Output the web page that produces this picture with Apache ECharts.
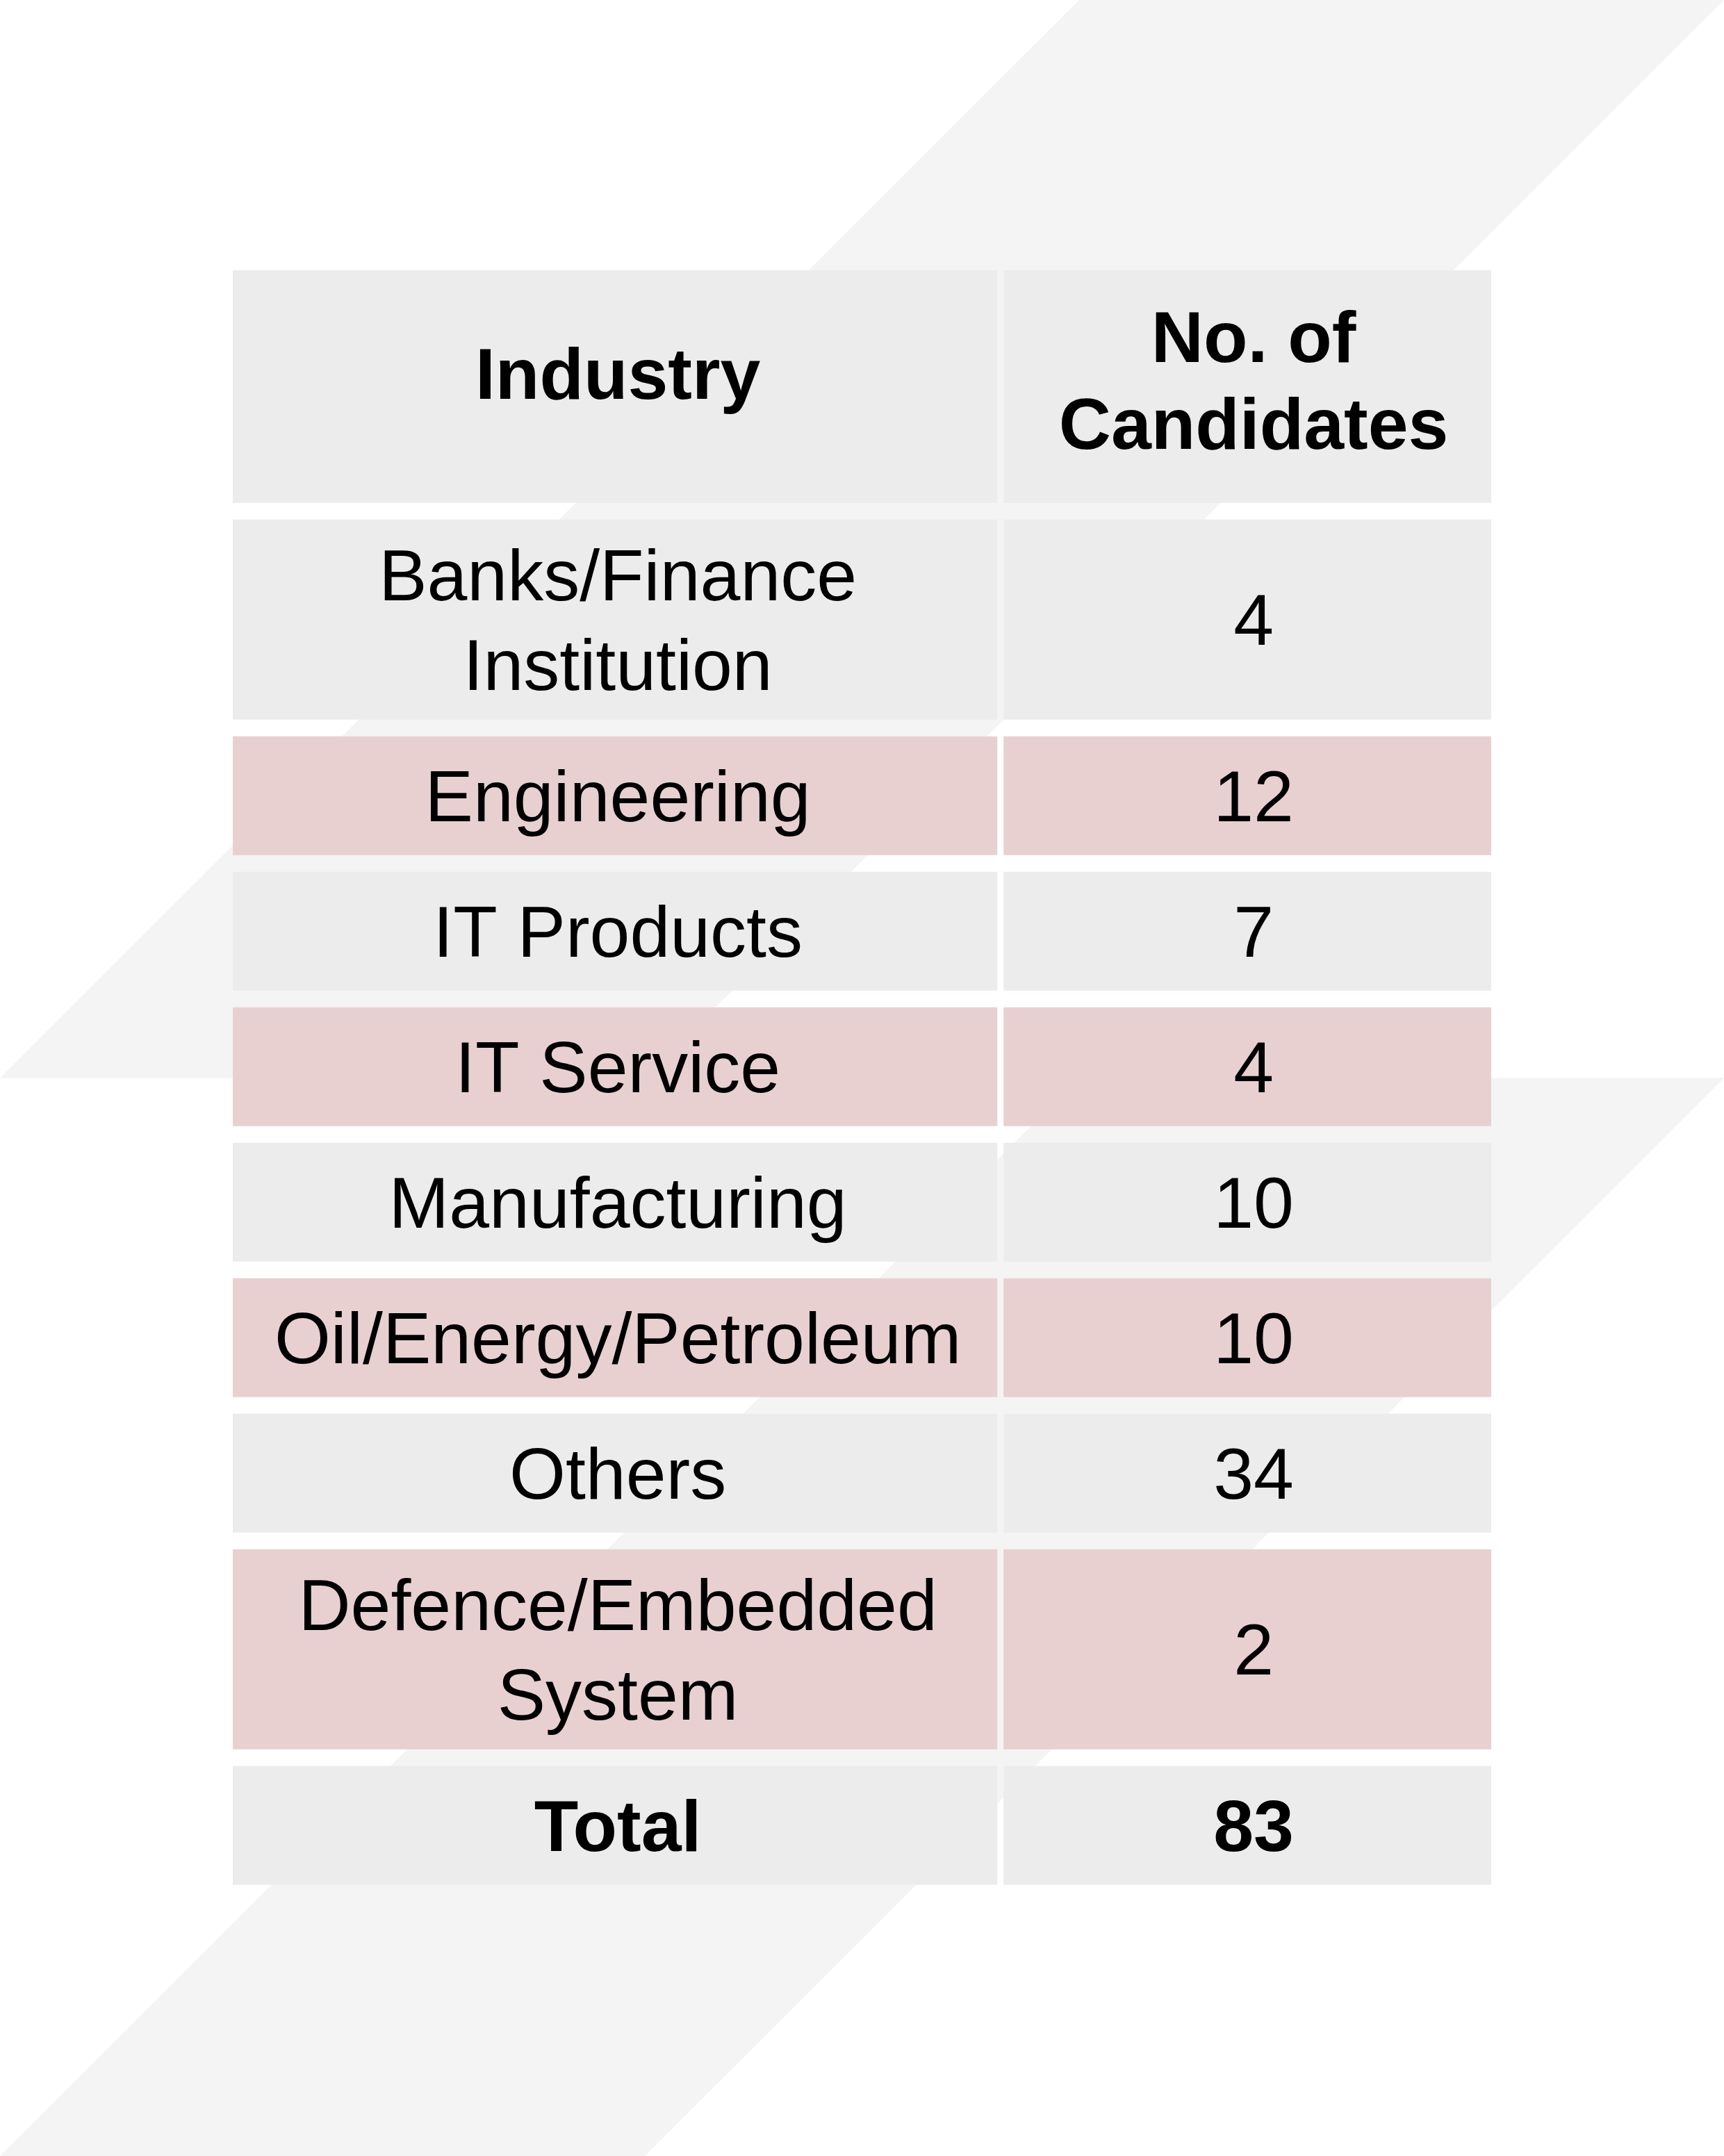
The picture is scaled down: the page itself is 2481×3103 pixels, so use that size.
<!DOCTYPE html>
<html>
<head>
<meta charset="utf-8">
<style>
html, body { margin: 0; padding: 0; background: #ffffff; }
#c { width: 2481px; height: 3103px; }
</style>
<script src="https://cdn.jsdelivr.net/npm/echarts@6/dist/echarts.min.js"></script>
</head>
<body>
<div id="c"></div>
<script>
// ---- data ----
const headers = ['Industry', 'No. of\nCandidates'];
const industries = [
  'Banks/Finance\nInstitution',
  'Engineering',
  'IT Products',
  'IT Service',
  'Manufacturing',
  'Oil/Energy/Petroleum',
  'Others',
  'Defence/Embedded\nSystem'
];
const candidates = [4, 12, 7, 4, 10, 10, 34, 2];
const totalLabel = 'Total';
const totalValue = 83;

// ---- layout ----
const chart = echarts.init(document.getElementById('c'), null, { renderer: 'canvas' });
const W = chart.getWidth(), H = chart.getHeight();

const rows = [{ cells: headers, bold: true, kind: 'header' }];
industries.forEach((name, i) => rows.push({ cells: [name, String(candidates[i])], bold: false, kind: 'body' }));
rows.push({ cells: [totalLabel, String(totalValue)], bold: true, kind: 'total' });

const ROW_PX = 195;    // pixels per y unit
const GAP_PX = 24;     // white gap under each row
const COL_GAP = 4.5;   // half gap between columns
const TEXT_DY = 8;     // baseline correction
const colEdges = [0, 61, 100];
const FONT = "'Liberation Sans', Arial, Helvetica, sans-serif";

function span(row) {
  const lines = Math.max(...row.cells.map(t => t.split('\n').length));
  return row.kind === 'header' ? 1.84 : 1 + 0.6 * (lines - 1);
}

let acc = 0;
const cellData = [];
rows.forEach((row, r) => {
  const s = span(row);
  row.start = acc; row.end = acc + s; acc += s;
  row.cells.forEach((t, c) => cellData.push([c, row.start, row.end, r]));
});
const yMax = acc;

const fillFor = r => (r % 2 === 1 || r === 0) ? '#ebeceb' : '#e8d0d1';

function renderItem(params, api) {
  const c = api.value(0), yv0 = api.value(1), yv1 = api.value(2), r = api.value(3);
  const p0 = api.coord([colEdges[c], yv0]);
  const p1 = api.coord([colEdges[c + 1], yv1]);
  const x0 = p0[0] + (c === 1 ? COL_GAP : 0);
  const x1 = p1[0] - (c === 0 ? COL_GAP : 0);
  const top = p0[1];
  const bottom = p1[1] - GAP_PX;
  const row = rows[r];
  let dy = TEXT_DY;
  if (row.kind === 'header') dy += (c === 0) ? -19 : -10;
  const dx = c === 0 ? 4 : 9;
  return {
    type: 'group',
    children: [
      { type: 'rect', shape: { x: x0, y: top, width: x1 - x0, height: bottom - top }, style: { fill: fillFor(r) } },
      { type: 'text', style: {
          text: row.cells[c],
          x: (x0 + x1) / 2 + dx,
          y: (top + bottom) / 2 + dy,
          align: 'center', verticalAlign: 'middle',
          fontSize: 104, fontFamily: FONT,
          fontWeight: row.bold ? 'bold' : 'normal',
          lineHeight: row.kind === 'header' ? 125 : 129,
          fill: '#000000'
      } }
    ]
  };
}

const option = {
  animation: false,
  backgroundColor: '#ffffff',
  graphic: [
    { type: 'polygon', silent: true, z: 0,
      shape: { points: [[W * 0.626, 0], [W, 0], [W * 0.374, H / 2], [0, H / 2]] },
      style: { fill: '#f4f4f4' } },
    { type: 'polygon', silent: true, z: 0,
      shape: { points: [[W * 0.626, H / 2], [W, H / 2], [W * 0.374, H], [0, H]] },
      style: { fill: '#f4f4f4' } }
  ],
  grid: { left: 335, top: 389, width: 1811, height: yMax * ROW_PX },
  xAxis: { type: 'value', min: 0, max: 100, show: false },
  yAxis: { type: 'value', min: 0, max: yMax, inverse: true, show: false },
  series: [{
    type: 'custom',
    z: 5,
    clip: false,
    renderItem: renderItem,
    data: cellData
  }]
};
chart.setOption(option);
</script>
</body>
</html>
